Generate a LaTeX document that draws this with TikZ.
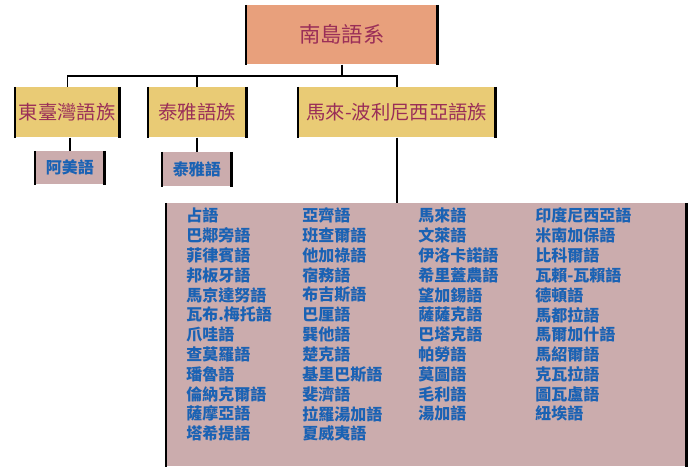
\documentclass[tikz,border=0pt]{standalone}
\usepackage{fontspec}
\newfontfamily\tc{Noto Sans CJK TC}
\definecolor{rootfill}{HTML}{E8A07C}
\definecolor{famfill}{HTML}{E9CB75}
\definecolor{langfill}{HTML}{CBACAD}
\definecolor{famtext}{HTML}{9A2E58}
\definecolor{langtext}{HTML}{1A62B4}
\tikzset{
  box/.style={inner sep=0pt, anchor=north west},
  side/.style={line width=2.2pt, black},
  link/.style={line width=0.8pt, black}
}
\begin{document}
\begin{tikzpicture}[x=0.75pt, y=-0.75pt, font=\tc]
\useasboundingbox (0,0) rectangle (700,470);
\node[box, fill=rootfill, minimum width=191*0.75pt, minimum height=59*0.75pt] (R) at (246,5) {};
\node[text=famtext, font=\tc\fontsize{16}{19}\selectfont] at (R.center) {南島語系};
\node[box, fill=famfill, minimum width=104*0.75pt, minimum height=50*0.75pt] (A) at (15,87) {};
\node[text=famtext, font=\tc\fontsize{14.5}{17}\selectfont] at (A.center) {東臺灣語族};
\node[box, fill=famfill, minimum width=98*0.75pt, minimum height=50*0.75pt] (B) at (148,87) {};
\node[text=famtext, font=\tc\fontsize{14.5}{17}\selectfont] at (B.center) {泰雅語族};
\node[box, fill=famfill, minimum width=197*0.75pt, minimum height=50*0.75pt] (C) at (298,87) {};
\node[text=famtext, font=\tc\fontsize{14.5}{17}\selectfont] at (C.center) {馬來-波利尼西亞語族};
\node[box, fill=langfill, minimum width=69*0.75pt, minimum height=33*0.75pt] (A1) at (35,151) {};
\node[text=langtext, font=\tc\bfseries\fontsize{12}{14}\selectfont] at (A1.center) {阿美語};
\node[box, fill=langfill, minimum width=69*0.75pt, minimum height=34*0.75pt] (B1) at (162,152) {};
\node[text=langtext, font=\tc\bfseries\fontsize{12}{14}\selectfont] at (B1.center) {泰雅語};
\node[box, fill=langfill, minimum width=520*0.75pt, minimum height=263*0.75pt] (C1) at (166,203) {};

\foreach \n in {R,A,B,C,A1,B1,C1}
  \draw[side] (\n.north west) -- (\n.south west) (\n.north east) -- (\n.south east);

% tree links
\coordinate (bus) at (342,76);
\draw[link] (R.south -| bus) -- (bus);
\draw[link] (A.north) |- (bus) -| (C.north -| 397,0);
\draw[link] (B.north -| 197,0) -- (197,76);
\draw[link] (A.south -| 70,0) -- (A1.north -| 70,0);
\draw[link] (B.south -| 197,0) -- (B1.north -| 197,0);
\draw[link] (C.south -| 397,0) -- (C1.north -| 397,0);

% languages
\foreach \col/\x/\names in {
  1/186/{占語,巴鄰旁語,菲律賓語,邦板牙語,馬京達努語,瓦布.梅托語,爪哇語,查莫羅語,璠魯語,倫納克爾語,薩摩亞語,塔希提語},
  2/302/{亞齊語,班查爾語,他加祿語,宿務語,布吉斯語,巴厘語,巽他語,楚克語,基里巴斯語,斐濟語,拉羅湯加語,夏威夷語},
  3/418/{馬來語,文萊語,伊洛卡諾語,希里蓋農語,望加錫語,薩薩克語,巴塔克語,帕勞語,莫圖語,毛利語,湯加語},
  4/535/{印度尼西亞語,米南加保語,比科爾語,瓦賴-瓦賴語,德頓語,馬都拉語,馬爾加什語,馬紹爾語,克瓦拉語,圖瓦盧語,紐埃語}}
  \foreach \t [count=\i] in \names
    \node[anchor=west, inner sep=0pt, text=langtext, font=\tc\bfseries\fontsize{12}{14}\selectfont]
      (L\col-\i) at (\x, 196+\i*19.8) {\t};
\end{tikzpicture}
\end{document}
